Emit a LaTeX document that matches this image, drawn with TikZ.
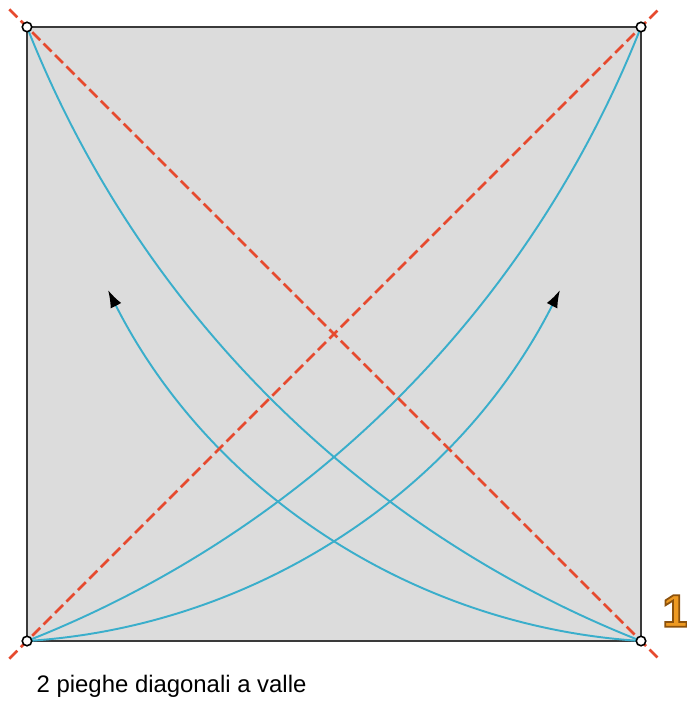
\documentclass[tikz,border=0pt]{standalone}
\usepackage{fontspec}
\setmainfont{Liberation Sans}
\usepackage{xcolor}
\usepackage{tikz}
\usetikzlibrary{arrows.meta}
\definecolor{OriPaper}{HTML}{DCDCDC}
\definecolor{OriEdge}{HTML}{3A3A3A}
\definecolor{OriRed}{HTML}{E64A2E}
\definecolor{OriBlue}{HTML}{3AAECB}
\definecolor{OriOrange}{HTML}{EE9A22}
\newcommand{\outlined}[1]{\special{pdf:literal direct 0.55 0.32 0.05 RG 0.5 w 2 Tr}#1\special{pdf:literal direct 0 Tr}}
\tikzset{
  paper/.style={fill=OriPaper,draw=OriEdge,line width=0.8pt},
  valley/.style={draw=OriRed,line width=0.75pt,dash pattern=on 3.2pt off 1.4pt,
    shorten <=-2.5mm,shorten >=-2.5mm},
  swing/.style={draw=OriBlue,line width=0.55pt},
  fold/.style={swing,-{Latex[length=5pt,width=3.4pt,black]}},
  pin/.style={circle,draw=black,fill=white,line width=0.45pt,inner sep=0pt,minimum size=0.95mm},
  caption/.style={font=\fontsize{6.8}{8}\selectfont,anchor=base west,inner sep=0pt},
  stepnum/.style={font=\fontsize{13}{14}\selectfont\bfseries,text=OriOrange,inner sep=0pt}
}

\begin{document}
\begin{tikzpicture}[x=0.1mm,y=0.1mm]
  \useasboundingbox (-27,-63) rectangle (659,641);
  \coordinate (bl) at (0,0); \coordinate (br) at (614,0);
  \coordinate (tr) at (614,614); \coordinate (tl) at (0,614);
  \coordinate (tipl) at (81,351); \coordinate (tipr) at (533,351);
  \draw[paper] (bl) rectangle (tr);
  % swing of the corners
  \draw[swing] (tl) to[bend right=23.5,looseness=0.89] (br);
  \draw[swing] (tr) to[bend left=23.5,looseness=0.89] (bl);
  \draw[fold] (bl) to[bend right=29.8,looseness=0.91] (tipr);
  \draw[fold] (br) to[bend left=29.8,looseness=0.91] (tipl);
  % valley folds
  \draw[valley] (bl) -- (tr);
  \draw[valley] (tl) -- (br);
  \foreach \c in {bl,br,tr,tl} \node[pin] (p\c) at (\c) {};
  \node[stepnum] (num) at (648,30) {\outlined{1}};
  \node[caption] (cap) at (9,-51) {2 pieghe diagonali a valle};
\end{tikzpicture}
\end{document}
